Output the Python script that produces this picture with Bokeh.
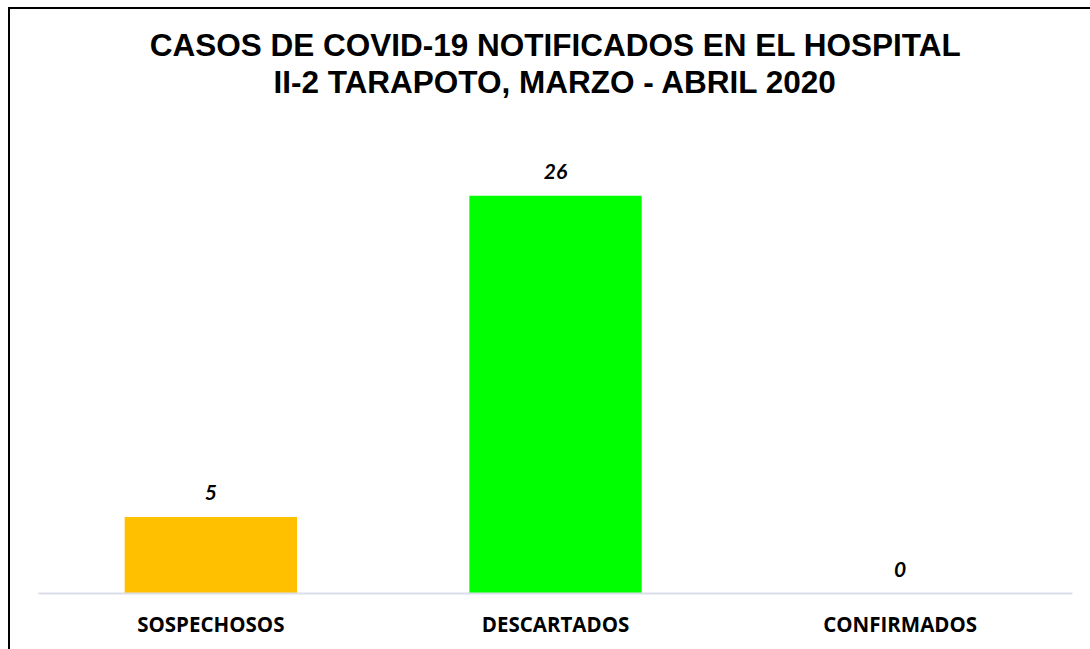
from bokeh.plotting import figure
from bokeh.models import ColumnDataSource, LabelSet, Title, Range1d
from bokeh.core.properties import value
from bokeh.embed import file_html
from bokeh.resources import INLINE

categories = ["SOSPECHOSOS", "DESCARTADOS", "CONFIRMADOS"]
values = [5, 26, 0]
colors = ["#FFC000", "#00FF00", "#A5A5A5"]
title_lines = ["CASOS DE COVID-19 NOTIFICADOS EN EL HOSPITAL",
               "II-2 TARAPOTO, MARZO - ABRIL 2020"]

src = ColumnDataSource(dict(cat=categories, val=values, color=colors,
                            lab=[str(v) for v in values]))

W, H = 1090, 649
ML, MR, MT, MB = 38, 18, 134, 56

p = figure(x_range=categories, y_range=Range1d(0, 30),
           width=W, height=H, output_backend="svg", toolbar_location=None,
           min_border_left=ML, min_border_right=MR, min_border_top=MT, min_border_bottom=MB)
p.title = None
p.border_fill_color = None
p.background_fill_color = None
p.styles = {
    "background": ("linear-gradient(#000,#000) 8px 7px / 2px 100% no-repeat, "
                   "linear-gradient(#000,#000) 8px 7px / 100% 2px no-repeat, #ffffff"),
}

title_style = dict(align="center", text_font="Liberation Sans", text_font_style="bold",
                   text_font_size="31.5px", text_color="#000000")
p.add_layout(Title(text=title_lines[1], standoff=70, **title_style), "above")
p.add_layout(Title(text=title_lines[0], standoff=-73, **title_style), "above")

p.vbar(x="cat", top="val", width=0.5, color="color", source=src, line_color=None)

labels = LabelSet(x="cat", y="val", text="lab", source=src, y_offset=17,
                  text_align="center", text_baseline="alphabetic",
                  text_font=value("Lato"), text_font_style="bold italic",
                  text_font_size="21px", text_color="#000000")
p.add_layout(labels)

p.outline_line_color = None
p.xgrid.grid_line_color = None
p.ygrid.grid_line_color = None
p.yaxis.visible = False
p.xaxis.axis_line_color = "#D9DEE8"
p.xaxis.axis_line_width = 2
p.xaxis.major_tick_line_color = None
p.xaxis.minor_tick_line_color = None
p.xaxis.major_label_standoff = 10
p.xaxis.major_label_text_font = "Open Sans"
p.xaxis.major_label_text_font_style = "bold"
p.xaxis.major_label_text_font_size = "20.5px"
p.xaxis.major_label_text_color = "#000000"
p.x_range.range_padding = 0

open("out.html", "w").write(file_html(p, INLINE))
